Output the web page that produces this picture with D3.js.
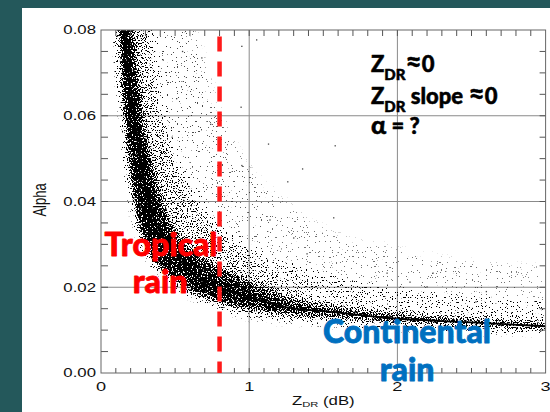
<!DOCTYPE html>
<html>
<head>
<meta charset="utf-8">
<script src="https://cdn.jsdelivr.net/npm/d3@7"></script>
<style>
  html, body { margin: 0; padding: 0; background: #24585b; }
  svg { display: block; }
</style>
</head>
<body>
<div id="chart"></div>
<script>
// Ticks
const xTicks = [0, 1, 2, 3];
const yTicks = [0, 0.02, 0.04, 0.06, 0.08];
const yTickLabels = ["0.00", "0.02", "0.04", "0.06", "0.08"];

// Fitted alpha vs ZDR curve
const curveZdr = [0.157, 0.19, 0.225, 0.25, 0.31, 0.35, 0.48, 0.63, 0.80, 1.0, 1.23, 1.57, 1.88, 2.5, 3.0];
const curveAlpha = [0.080, 0.069, 0.060, 0.053, 0.041, 0.0365, 0.0287, 0.0228, 0.0198, 0.0177, 0.0155, 0.0142, 0.0130, 0.0118, 0.0109];

// Scatter cloud envelopes (dense core, medium halo, sparse halo)
const bandZdr = [0.10, 0.12, 0.15, 0.18, 0.22, 0.25, 0.30, 0.35, 0.40, 0.50, 0.60, 0.80, 1.00, 1.25, 1.50, 2.00, 2.50, 3.00];
const coreLow = [0.095, 0.077, 0.062, 0.050, 0.040, 0.035, 0.0295, 0.0265, 0.0245, 0.0215, 0.0193, 0.0165, 0.0148, 0.0136, 0.0129, 0.0119, 0.0111, 0.0104];
const coreHigh = [0.130, 0.120, 0.110, 0.092, 0.077, 0.068, 0.056, 0.048, 0.041, 0.033, 0.029, 0.0245, 0.0215, 0.0182, 0.0162, 0.0140, 0.0128, 0.0120];
const midLow = [0.100, 0.080, 0.064, 0.052, 0.041, 0.036, 0.029, 0.026, 0.024, 0.021, 0.0185, 0.0155, 0.0135, 0.0125, 0.0118, 0.0108, 0.0100, 0.0095];
const midHigh = [0.140, 0.140, 0.140, 0.130, 0.115, 0.105, 0.090, 0.075, 0.063, 0.050, 0.043, 0.034, 0.029, 0.025, 0.0224, 0.0190, 0.0172, 0.0162];
const sparseLow = [0.100, 0.080, 0.063, 0.051, 0.040, 0.035, 0.0285, 0.0255, 0.0235, 0.0205, 0.018, 0.015, 0.0128, 0.0118, 0.0110, 0.0100, 0.0094, 0.0090];
const sparseHigh = [0.150, 0.150, 0.150, 0.150, 0.150, 0.150, 0.140, 0.130, 0.120, 0.100, 0.085, 0.062, 0.048, 0.040, 0.034, 0.029, 0.026, 0.025];

// Isolated outlier points [ZDR, alpha]
const outliers = [
  [1.05, 0.0777], [0.95, 0.0762], [0.945, 0.062], [0.95, 0.0484], [1.58, 0.053], [1.13, 0.0534],
  [1.36, 0.0476], [1.26, 0.0446], [1.57, 0.0362], [1.14, 0.0357], [1.30, 0.0315], [1.39, 0.0278],
  [1.93, 0.0233], [2.24, 0.0233], [2.085, 0.0212], [2.2, 0.0201], [2.53, 0.0166], [2.6, 0.019],
  [0.55, 0.075], [0.68, 0.0735], [0.42, 0.073], [0.51, 0.064], [0.74, 0.058], [0.48, 0.055]
];

const splitZdr = 0.8;

const W = 550, H = 412;
const svg = d3.select("#chart").append("svg").attr("width", W).attr("height", H);
const defs = svg.append("defs");

// slide background + white panel
svg.append("rect").attr("width", W).attr("height", H).attr("fill", "#24585b");
svg.append("rect").attr("x", 22).attr("y", 8).attr("width", W - 22).attr("height", H - 8).attr("fill", "#fff");

const x = d3.scaleLinear().domain([0, 3]).range([101, 545.6]);
const y = d3.scaleLinear().domain([0, 0.08]).range([373, 30]);

defs.append("clipPath").attr("id", "plot")
  .append("rect").attr("x", x(0)).attr("y", y(0.08)).attr("width", x(3) - x(0)).attr("height", y(0) - y(0.08));

// stipple filter: density = blurred alpha of the group, dots where density > noise
const f = defs.append("filter").attr("id", "stip")
  .attr("filterUnits", "userSpaceOnUse")
  .attr("x", 95).attr("y", 25).attr("width", 460).attr("height", 355)
  .attr("color-interpolation-filters", "sRGB");
f.append("feGaussianBlur").attr("in", "SourceAlpha").attr("stdDeviation", 3).attr("result", "d");
f.append("feTurbulence").attr("type", "fractalNoise").attr("baseFrequency", 0.8)
  .attr("numOctaves", 1).attr("seed", 7).attr("result", "n");
f.append("feColorMatrix").attr("in", "n").attr("type", "matrix")
  .attr("values", "0 0 0 0 0  0 0 0 0 0  0 0 0 0 0  2.6 0 0 0 -0.8").attr("result", "nu");
f.append("feComposite").attr("in", "d").attr("in2", "nu").attr("operator", "arithmetic")
  .attr("k1", 0).attr("k2", 20).attr("k3", -20).attr("k4", 0);

// horizontal fade of densities
function fade(id, stops) {
  const g = defs.append("linearGradient").attr("id", id).attr("gradientUnits", "userSpaceOnUse")
    .attr("x1", x(0)).attr("x2", x(3)).attr("y1", 0).attr("y2", 0);
  stops.forEach(([o, a]) => g.append("stop").attr("offset", o).attr("stop-color", "#000").attr("stop-opacity", a));
}
fade("g-sparse", [[0, 0.045], [0.3, 0.03], [1, 0.025]]);
fade("g-mid", [[0, 0.3], [0.3, 0.25], [0.55, 0.14], [1, 0.1]]);
fade("g-core", [[0, 0.78], [0.3, 0.68], [0.45, 0.45], [1, 0.22]]);

// grid
const grid = svg.append("g").attr("stroke", "#8a8a8a").attr("stroke-width", 1);
grid.selectAll("line.v").data(xTicks.slice(1, -1)).join("line").attr("class", "v")
  .attr("x1", (d) => x(d)).attr("x2", (d) => x(d)).attr("y1", y(0.08)).attr("y2", y(0));
grid.selectAll("line.h").data(yTicks.slice(1, -1)).join("line").attr("class", "h")
  .attr("y1", (d) => y(d)).attr("y2", (d) => y(d)).attr("x1", x(0)).attr("x2", x(3));

// cloud
const cloud = svg.append("g").attr("clip-path", "url(#plot)");
const dens = cloud.append("g").attr("filter", "url(#stip)");
const layers = [
  { low: sparseLow, high: sparseHigh, g: "g-sparse" },
  { low: midLow, high: midHigh, g: "g-mid" },
  { low: coreLow, high: coreHigh, g: "g-core" }
];
layers.forEach((L) => {
  const area = d3.area()
    .x((d, i) => x(bandZdr[i]))
    .y0((d, i) => y(L.low[i]))
    .y1((d, i) => y(L.high[i]))
    .curve(d3.curveMonotoneX);
  dens.append("path").attr("d", area(bandZdr)).attr("fill", `url(#${L.g})`);
});

const line = d3.line().x((d, i) => x(curveZdr[i])).y((d, i) => y(curveAlpha[i])).curve(d3.curveMonotoneX);
dens.append("path").attr("d", line(curveZdr)).attr("fill", "none")
  .attr("stroke", "#000").attr("stroke-opacity", 0.6).attr("stroke-width", 6);

cloud.selectAll("rect.out").data(outliers).join("rect").attr("class", "out")
  .attr("x", (d) => x(d[0]) - 0.6).attr("y", (d) => y(d[1]) - 0.6)
  .attr("width", 1.3).attr("height", 1.3).attr("fill", "#444");

cloud.append("path").attr("d", line(curveZdr)).attr("fill", "none").attr("stroke", "#000").attr("stroke-width", 1.8);

// minor ticks (pointing inward)
const xMinor = d3.range(1, 30).map((d) => d / 10);
const yMinor = d3.range(1, 16).map((d) => d * 0.005);
const axisG = svg.append("g").attr("stroke", "#555");
axisG.selectAll("line.xb").data(xMinor).join("line").attr("class", "xb")
  .attr("x1", (d) => x(d)).attr("x2", (d) => x(d)).attr("y1", y(0)).attr("y2", y(0) - 5);
axisG.selectAll("line.xt").data(xMinor).join("line").attr("class", "xt")
  .attr("x1", (d) => x(d)).attr("x2", (d) => x(d)).attr("y1", y(0.08)).attr("y2", y(0.08) + 6);
axisG.selectAll("line.yl").data(yMinor).join("line").attr("class", "yl")
  .attr("y1", (d) => y(d)).attr("y2", (d) => y(d)).attr("x1", x(0)).attr("x2", x(0) + 7);
axisG.selectAll("line.yr").data(yMinor).join("line").attr("class", "yr")
  .attr("y1", (d) => y(d)).attr("y2", (d) => y(d)).attr("x1", x(3)).attr("x2", x(3) - 6);

// frame
svg.append("rect").attr("x", x(0)).attr("y", y(0.08)).attr("width", x(3) - x(0)).attr("height", y(0) - y(0.08))
  .attr("fill", "none").attr("stroke", "#666").attr("stroke-width", 1);

// tick labels (source image is stretched horizontally)
const lab = svg.append("g").attr("font-family", "'Liberation Sans', Arial, sans-serif").attr("fill", "#111");
lab.selectAll("text.xl").data(xTicks).join("text").attr("class", "xl")
  .attr("transform", (d) => `translate(${x(d)},${y(0) + 18}) scale(1.4,1)`)
  .attr("text-anchor", "middle").attr("font-size", 13).text((d) => d);
lab.selectAll("text.yl").data(yTicks).join("text").attr("class", "yl")
  .attr("transform", (d) => `translate(${x(0) - 5},${y(d) + 4.3}) scale(1.4,1)`)
  .attr("text-anchor", "end").attr("font-size", 12).text((d, i) => yTickLabels[i]);

const xl = lab.append("text").attr("transform", `translate(${(x(0) + x(3)) / 2},405) scale(1.4,1)`)
  .attr("text-anchor", "middle").attr("font-size", 12);
xl.append("tspan").text("Z");
xl.append("tspan").attr("font-size", 8).attr("dy", 2).text("DR");
xl.append("tspan").attr("dy", -2).text(" (dB)");

lab.append("text").attr("transform", "translate(46,200) scale(1.4,1) rotate(-90)")
  .attr("text-anchor", "middle").attr("font-size", 13).text("Alpha");

// red split line
svg.append("line").attr("x1", x(splitZdr)).attr("x2", x(splitZdr)).attr("y1", y(0.0785)).attr("y2", y(0))
  .attr("stroke", "#ff1a1a").attr("stroke-width", 4.5).attr("stroke-dasharray", "15,10");

// slide annotations
const ann = svg.append("g").attr("font-family", "Lato, 'Open Sans', sans-serif").attr("font-weight", 900)
  .attr("stroke-linejoin", "round");
const big = [
  { t: "Tropical", x: 161, y: 256, c: "#ff0000" },
  { t: "rain", x: 160, y: 293, c: "#ff0000" },
  { t: "Continental", x: 407, y: 343, c: "#0070c0" },
  { t: "rain", x: 407, y: 381, c: "#0070c0" }
];
ann.selectAll("text.big").data(big).join("text").attr("class", "big")
  .attr("x", (d) => d.x).attr("y", (d) => d.y).attr("text-anchor", "middle").attr("font-size", 32)
  .attr("fill", (d) => d.c).attr("stroke", (d) => d.c).attr("stroke-width", 0.8).text((d) => d.t);

const blk = ann.append("g").attr("fill", "#000").attr("stroke", "#000").attr("stroke-width", 0.5);
const t1 = blk.append("text").attr("x", 371).attr("y", 72).attr("font-size", 22);
t1.append("tspan").text("Z");
t1.append("tspan").attr("font-size", 15).attr("dy", 8).text("DR");
t1.append("tspan").attr("font-size", 28).attr("dy", -8).text("\u2248");
t1.append("tspan").text("0");

const t2 = blk.append("text").attr("x", 371).attr("y", 103.5).attr("font-size", 22);
t2.append("tspan").text("Z");
t2.append("tspan").attr("font-size", 15).attr("dy", 8).text("DR");
t2.append("tspan").attr("dy", -8).text(" slope ");
t2.append("tspan").attr("font-size", 28).text("\u2248");
t2.append("tspan").text("0");

const t3 = blk.append("text").attr("x", 371).attr("y", 134).attr("font-size", 22);
t3.append("tspan").attr("font-size", 25).text("\u03b1");
t3.append("tspan").text(" = ?");
</script>
</body>
</html>
